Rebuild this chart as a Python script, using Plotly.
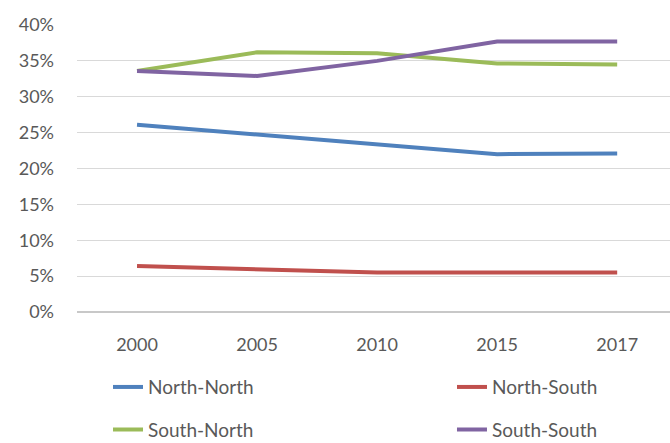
import plotly.graph_objects as go

years = ["2000", "2005", "2010", "2015", "2017"]
north_north = [26.1, 24.7, 23.3, 22.0, 22.1]
north_south = [6.4, 5.95, 5.5, 5.5, 5.5]
south_north = [33.6, 36.2, 36.05, 34.65, 34.5]
south_south = [33.6, 32.9, 35.0, 37.7, 37.7]

series = [
    ("North-North", north_north, "#4F81BD", "legend"),
    ("North-South", north_south, "#C0504D", "legend2"),
    ("South-North", south_north, "#9BBB59", "legend3"),
    ("South-South", south_south, "#8064A2", "legend4"),
]

fig = go.Figure()
for name, vals, color, leg in series:
    fig.add_trace(go.Scatter(
        x=years, y=vals, name=name, mode="lines",
        line=dict(color=color, width=4),
        legend=leg,
    ))

tick_font = dict(family="Lato, 'Noto Sans', sans-serif", size=18, color="#595959")
leg_font = dict(family="Lato, 'Noto Sans', sans-serif", size=19, color="#595959")

def leg(x, y):
    return dict(
        x=x, y=y, xref="container", yref="container",
        xanchor="left", yanchor="middle", orientation="h",
        font=leg_font, bgcolor="rgba(0,0,0,0)", borderwidth=0,
    )

fig.update_layout(
    width=670, height=443,
    margin=dict(l=77, r=0, t=25, b=131),
    paper_bgcolor="white", plot_bgcolor="white",
    font=tick_font,
    showlegend=True,
    legend=leg(0.1612, 0.1262),
    legend2=leg(0.6746, 0.1262),
    legend3=leg(0.1612, 0.030),
    legend4=leg(0.6746, 0.030),
    xaxis=dict(
        type="category", range=[-0.5, 4.44],
        showgrid=False, zeroline=False, showline=False,
        ticks="", ticklabelstandoff=20,
        tickfont=tick_font, fixedrange=True,
    ),
    yaxis=dict(
        range=[0, 40], tickvals=[0, 5, 10, 15, 20, 25, 30, 35, 40],
        ticktext=["0%", "5%", "10%", "15%", "20%", "25%", "30%", "35%", "40%"],
        showgrid=True, gridcolor="#D9D9D9", gridwidth=1,
        zeroline=True, zerolinecolor="#C8C8C8", zerolinewidth=2,
        showline=False, ticks="", ticklabelstandoff=22,
        tickfont=tick_font, fixedrange=True,
    ),
)

fig.write_html("out.html")
